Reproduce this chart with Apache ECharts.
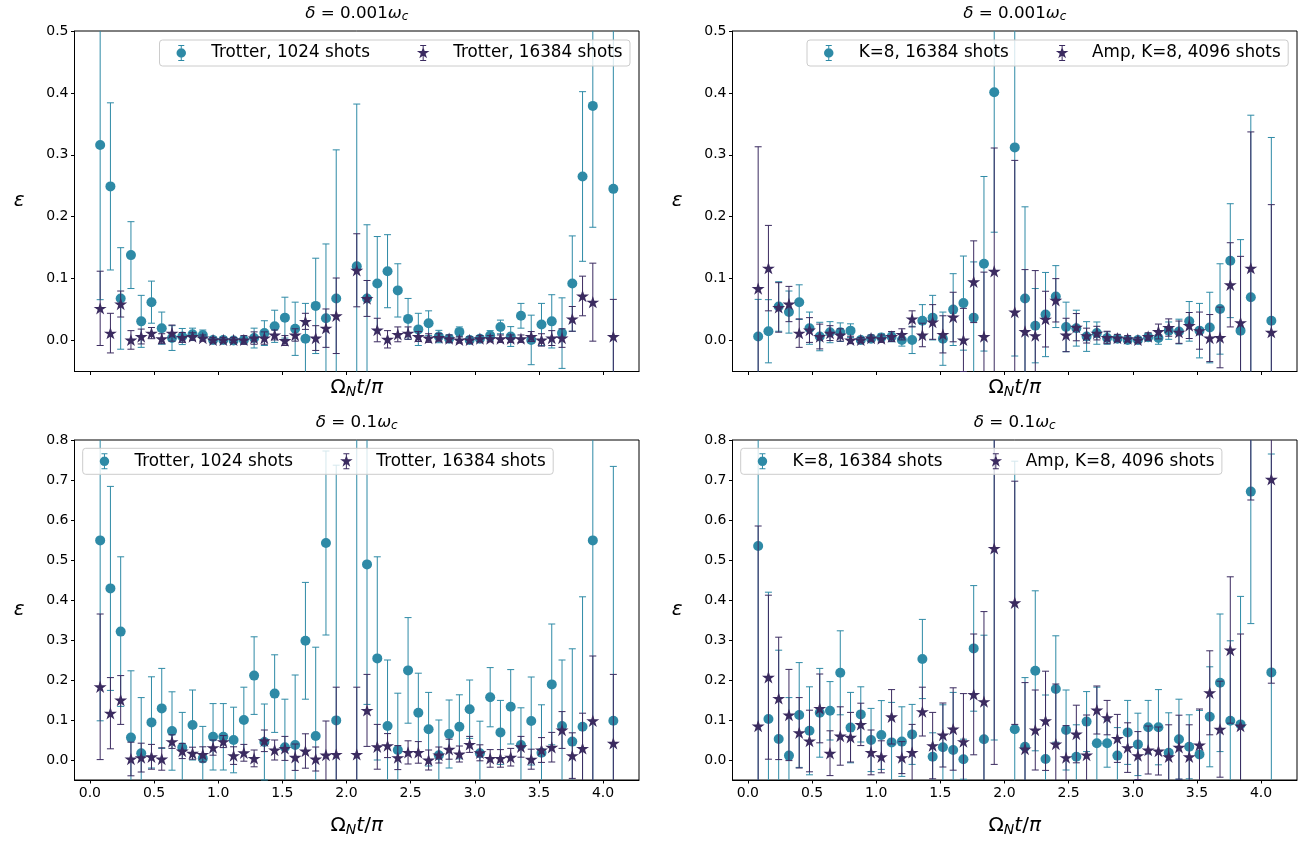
<!DOCTYPE html>
<html>
<head>
<meta charset="utf-8">
<script src="https://cdn.jsdelivr.net/npm/echarts@6/dist/echarts.min.js"></script>
<style>
  html, body { margin: 0; padding: 0; background: #fff; }
  #chart { width: 1316px; height: 845px; }
</style>
</head>
<body>
<div id="chart"></div>
<script>
// time points Omega_N t / pi (t = 2 and t = 4 are missing in the data)
const times = [0.08, 0.16, 0.24, 0.32, 0.40, 0.48, 0.56, 0.64, 0.72, 0.80, 0.88, 0.96,
  1.04, 1.12, 1.20, 1.28, 1.36, 1.44, 1.52, 1.60, 1.68, 1.76, 1.84, 1.92,
  2.08, 2.16, 2.24, 2.32, 2.40, 2.48, 2.56, 2.64, 2.72, 2.80, 2.88, 2.96,
  3.04, 3.12, 3.20, 3.28, 3.36, 3.44, 3.52, 3.60, 3.68, 3.76, 3.84, 3.92, 4.08];

// delta = 0.001 w_c, Trotter
const smallTrotter1024 = [0.316, 0.249, 0.068, 0.138, 0.031, 0.062, 0.020, 0.004, 0.0065, 0.010, 0.009, 0.001,
  0.001, 0.000, 0.001, 0.004, 0.012, 0.023, 0.037, 0.019, 0.003, 0.056, 0.036, 0.068,
  0.120, 0.068, 0.092, 0.112, 0.081, 0.035, 0.018, 0.028, 0.0065, 0.003, 0.014, 0.001,
  0.003, 0.008, 0.022, 0.0065, 0.040, 0.001, 0.026, 0.031, 0.012, 0.092, 0.265, 0.379, 0.245];
const smallTrotter1024Err = [0.25, 0.135, 0.082, 0.054, 0.042, 0.034, 0.026, 0.020, 0.013, 0.010, 0.008, 0.005,
  0.005, 0.004, 0.005, 0.016, 0.020, 0.026, 0.033, 0.043, 0.057, 0.077, 0.120, 0.240,
  0.262, 0.119, 0.076, 0.059, 0.043, 0.033, 0.026, 0.020, 0.010, 0.006, 0.008, 0.005,
  0.005, 0.008, 0.011, 0.016, 0.020, 0.040, 0.034, 0.043, 0.057, 0.077, 0.137, 0.196, 0.30];
const smallTrotter16384 = [0.052, 0.012, 0.059, 0.001, 0.0065, 0.012, 0.003, 0.012, 0.005, 0.0065, 0.004, 0.001,
  0.001, 0.001, 0.001, 0.004, 0.004, 0.009, 0.000, 0.009, 0.031, 0.004, 0.020, 0.040,
  0.1135, 0.068, 0.017, 0.002, 0.010, 0.012, 0.0065, 0.004, 0.005, 0.003, 0.001, 0.001,
  0.003, 0.003, 0.003, 0.003, 0.003, 0.0065, 0.001, 0.004, 0.004, 0.035, 0.072, 0.062, 0.0065];
const smallTrotter16384Err = [0.060, 0.032, 0.021, 0.015, 0.012, 0.009, 0.008, 0.013, 0.008, 0.006, 0.005, 0.004,
  0.004, 0.004, 0.007, 0.010, 0.010, 0.008, 0.008, 0.010, 0.013, 0.020, 0.031, 0.061,
  0.059, 0.029, 0.019, 0.014, 0.012, 0.010, 0.008, 0.007, 0.006, 0.006, 0.005, 0.005,
  0.005, 0.005, 0.006, 0.006, 0.006, 0.008, 0.010, 0.012, 0.015, 0.020, 0.032, 0.063, 0.060];

// delta = 0.001 w_c, K=8
const smallK8 = [0.0065, 0.015, 0.055, 0.046, 0.062, 0.020, 0.0065, 0.0135, 0.0135, 0.016, 0.001, 0.003,
  0.005, 0.006, 0.001, 0.001, 0.032, 0.037, 0.003, 0.050, 0.0605, 0.037, 0.124, 0.401,
  0.312, 0.068, 0.024, 0.042, 0.071, 0.022, 0.020, 0.0065, 0.012, 0.004, 0.003, 0.001,
  0.001, 0.0055, 0.004, 0.016, 0.0145, 0.031, 0.016, 0.021, 0.051, 0.129, 0.016, 0.070, 0.032];
const smallK8Err = [0.060, 0.051, 0.040, 0.034, 0.028, 0.026, 0.023, 0.017, 0.015, 0.011, 0.004, 0.005,
  0.006, 0.008, 0.010, 0.022, 0.026, 0.036, 0.043, 0.058, 0.076, 0.090, 0.141, 0.226,
  0.337, 0.148, 0.060, 0.068, 0.050, 0.040, 0.029, 0.024, 0.018, 0.010, 0.006, 0.005,
  0.004, 0.006, 0.010, 0.014, 0.020, 0.032, 0.044, 0.057, 0.073, 0.092, 0.147, 0.294, 0.296];
const smallAmpK8 = [0.084, 0.117, 0.0535, 0.059, 0.012, 0.017, 0.0065, 0.012, 0.009, 0.001, 0.001, 0.004,
  0.003, 0.0065, 0.010, 0.035, 0.009, 0.030, 0.010, 0.038, 0.001, 0.095, 0.0065, 0.112,
  0.046, 0.0146, 0.008, 0.0346, 0.065, 0.009, 0.0216, 0.008, 0.012, 0.005, 0.004, 0.003,
  0.001, 0.0065, 0.0146, 0.021, 0.0135, 0.0243, 0.016, 0.004, 0.005, 0.090, 0.029, 0.117, 0.0135];
const smallAmpK8Err = [0.229, 0.069, 0.040, 0.0285, 0.023, 0.020, 0.020, 0.012, 0.010, 0.006, 0.004, 0.005,
  0.006, 0.008, 0.009, 0.013, 0.019, 0.028, 0.030, 0.040, 0.051, 0.066, 0.104, 0.199,
  0.245, 0.100, 0.105, 0.045, 0.035, 0.027, 0.022, 0.012, 0.011, 0.010, 0.006, 0.005,
  0.004, 0.006, 0.012, 0.014, 0.018, 0.021, 0.030, 0.038, 0.049, 0.068, 0.107, 0.220, 0.206];

// delta = 0.1 w_c, Trotter
const bigTrotter1024 = [0.549, 0.429, 0.321, 0.056, 0.017, 0.094, 0.129, 0.0725, 0.031, 0.0875, 0.004, 0.058,
  0.058, 0.050, 0.100, 0.211, 0.045, 0.166, 0.032, 0.0375, 0.298, 0.060, 0.5425, 0.099,
  0.804, 0.489, 0.254, 0.085, 0.025, 0.224, 0.118, 0.077, 0.012, 0.065, 0.083, 0.127,
  0.017, 0.157, 0.069, 0.133, 0.0375, 0.0975, 0.018, 0.189, 0.085, 0.046, 0.083, 0.549, 0.098];
const bigTrotter1024Err = [0.451, 0.255, 0.187, 0.167, 0.139, 0.114, 0.100, 0.098, 0.088, 0.0875, 0.080, 0.083,
  0.083, 0.082, 0.082, 0.097, 0.095, 0.097, 0.120, 0.175, 0.146, 0.222, 0.230, 0.638,
  0.900, 0.350, 0.254, 0.165, 0.142, 0.132, 0.099, 0.092, 0.088, 0.085, 0.080, 0.073,
  0.080, 0.074, 0.080, 0.093, 0.093, 0.110, 0.120, 0.151, 0.165, 0.232, 0.325, 0.650, 0.636];
const bigTrotter16384 = [0.183, 0.117, 0.150, 0.0025, 0.006, 0.008, 0.0025, 0.046, 0.0225, 0.017, 0.014, 0.031,
  0.046, 0.011, 0.018, 0.004, 0.048, 0.025, 0.029, 0.007, 0.0225, 0.0025, 0.0125, 0.014,
  0.014, 0.124, 0.033, 0.036, 0.006, 0.019, 0.019, 0.000, 0.0125, 0.027, 0.015, 0.039,
  0.018, 0.004, 0.004, 0.007, 0.033, 0.002, 0.025, 0.032, 0.075, 0.011, 0.029, 0.098, 0.042];
const bigTrotter16384Err = [0.182, 0.089, 0.061, 0.042, 0.036, 0.031, 0.028, 0.017, 0.019, 0.015, 0.019, 0.019,
  0.015, 0.022, 0.021, 0.021, 0.027, 0.025, 0.030, 0.033, 0.043, 0.030, 0.085, 0.168,
  0.168, 0.090, 0.056, 0.030, 0.030, 0.029, 0.027, 0.025, 0.020, 0.025, 0.020, 0.020,
  0.020, 0.022, 0.022, 0.022, 0.026, 0.025, 0.031, 0.037, 0.046, 0.057, 0.088, 0.162, 0.172];

// delta = 0.1 w_c, K=8
const bigK8 = [0.535, 0.1025, 0.0525, 0.011, 0.1125, 0.073, 0.118, 0.123, 0.218, 0.081, 0.114, 0.050,
  0.0625, 0.044, 0.046, 0.064, 0.2525, 0.008, 0.032, 0.025, 0.002, 0.279, 0.052, 0.95,
  0.077, 0.033, 0.223, 0.0025, 0.1775, 0.075, 0.008, 0.096, 0.042, 0.042, 0.011, 0.069,
  0.039, 0.082, 0.082, 0.018, 0.052, 0.033, 0.014, 0.108, 0.193, 0.098, 0.089, 0.671, 0.219];
const bigK8Err = [0.600, 0.317, 0.222, 0.145, 0.131, 0.110, 0.111, 0.073, 0.105, 0.088, 0.069, 0.079,
  0.086, 0.100, 0.087, 0.075, 0.099, 0.060, 0.106, 0.144, 0.050, 0.157, 0.260, 0.900,
  0.670, 0.173, 0.200, 0.160, 0.133, 0.100, 0.080, 0.075, 0.140, 0.060, 0.070, 0.080,
  0.078, 0.067, 0.094, 0.100, 0.100, 0.080, 0.110, 0.125, 0.172, 0.200, 0.320, 0.330, 0.546];
const bigAmpK8 = [0.085, 0.207, 0.154, 0.1125, 0.068, 0.0475, 0.129, 0.017, 0.060, 0.057, 0.089, 0.019,
  0.008, 0.108, 0.006, 0.019, 0.121, 0.036, 0.0625, 0.0775, 0.046, 0.164, 0.146, 0.529,
  0.393, 0.0275, 0.075, 0.098, 0.040, 0.006, 0.065, 0.0125, 0.125, 0.106, 0.054, 0.031,
  0.011, 0.025, 0.0225, 0.008, 0.032, 0.008, 0.0375, 0.168, 0.077, 0.275, 0.085, 0.85, 0.702];
const bigAmpK8Err = [0.500, 0.205, 0.153, 0.114, 0.088, 0.077, 0.086, 0.056, 0.073, 0.062, 0.053, 0.056,
  0.040, 0.068, 0.040, 0.070, 0.061, 0.083, 0.080, 0.103, 0.120, 0.151, 0.225, 0.540,
  0.304, 0.166, 0.100, 0.124, 0.150, 0.080, 0.072, 0.100, 0.060, 0.043, 0.060, 0.062,
  0.060, 0.060, 0.060, 0.080, 0.080, 0.080, 0.090, 0.105, 0.120, 0.183, 0.230, 0.200, 0.510];

const xTicks = [0, 0.5, 1, 1.5, 2, 2.5, 3, 3.5, 4];
const yTicksSmall = [0, 0.1, 0.2, 0.3, 0.4, 0.5];
const yTicksBig = [0, 0.1, 0.2, 0.3, 0.4, 0.5, 0.6, 0.7, 0.8];

const FONT = 'DejaVu Sans';
const CIRCLE_COLOR = '#2e8aa6';
const STAR_COLOR = '#3b2b60';

// marker shapes (matplotlib-like '*' and errorbar legend glyphs)
function starPath(cx, cy, R) {
  const pts = [];
  for (let i = 0; i < 10; i++) {
    const a = (-90 + 36 * i) * Math.PI / 180;
    const r = i % 2 === 0 ? R : R * 0.382;
    pts.push((cx + r * Math.cos(a)).toFixed(3) + ',' + (cy + r * Math.sin(a)).toFixed(3));
  }
  return 'M' + pts.join('L') + 'Z';
}
const starSymbol = 'path://' + starPath(5, 5, 5);
const barGlyph = 'M6,0h1v16h-1zM3.5,0h6v1h-6zM3.5,15h6v1h-6z';
const circleIcon = 'path://' + barGlyph + 'M1.75,8a4.75,4.75 0 1,1 9.5,0a4.75,4.75 0 1,1 -9.5,0z';
const starIcon = 'path://' + barGlyph + starPath(6.5, 8, 6.6);

const grids = [
  { left: 74.5, top: 31, width: 564.5, height: 340.5 },
  { left: 732.5, top: 31, width: 564.5, height: 340.5 },
  { left: 74.5, top: 440, width: 564.5, height: 340 },
  { left: 732.5, top: 440, width: 564.5, height: 340 }
];

const panels = [
  { a: ['Trotter, 1024 shots', smallTrotter1024, smallTrotter1024Err],
    b: ['Trotter, 16384 shots', smallTrotter16384, smallTrotter16384Err],
    title: '0.001', legend: { left: 159.5, top: 40 } },
  { a: ['K=8, 16384 shots', smallK8, smallK8Err],
    b: ['Amp, K=8, 4096 shots', smallAmpK8, smallAmpK8Err],
    title: '0.001', legend: { left: 807, top: 40 } },
  { a: ['Trotter, 1024 shots', bigTrotter1024, bigTrotter1024Err],
    b: ['Trotter, 16384 shots', bigTrotter16384, bigTrotter16384Err],
    title: '0.1', legend: { left: 82.7, top: 448.3 } },
  { a: ['K=8, 16384 shots', bigK8, bigK8Err],
    b: ['Amp, K=8, 4096 shots', bigAmpK8, bigAmpK8Err],
    title: '0.1', legend: { left: 740.7, top: 448.3 } }
];

function errorBars(g, vals, errs, color, z) {
  return {
    type: 'custom', xAxisIndex: g, yAxisIndex: g, z: z, silent: true,
    data: times.map((t, i) => [t, vals[i] - errs[i], vals[i] + errs[i]]),
    encode: { x: 0, y: [1, 2] },
    renderItem: function (params, api) {
      const x = api.coord([api.value(0), 0])[0];
      const lo = api.coord([api.value(0), api.value(1)])[1];
      const hi = api.coord([api.value(0), api.value(2)])[1];
      const cs = params.coordSys;
      const top = cs.y, bot = cs.y + cs.height;
      const clamp = v => Math.max(top, Math.min(bot, v));
      const style = { stroke: color, lineWidth: 1 };
      const children = [{ type: 'line', shape: { x1: x, y1: clamp(hi), x2: x, y2: clamp(lo) }, style: style }];
      [hi, lo].forEach(y => {
        if (y >= top && y <= bot) {
          children.push({ type: 'line', shape: { x1: x - 3.5, y1: y, x2: x + 3.5, y2: y }, style: style });
        }
      });
      return { type: 'group', children: children };
    }
  };
}

function markers(g, name, vals, color, symbol, size, z) {
  return {
    type: 'scatter', name: name, xAxisIndex: g, yAxisIndex: g, z: z, silent: true, clip: true,
    data: times.map((t, i) => [t, vals[i]]),
    symbol: symbol, symbolSize: size, symbolKeepAspect: true,
    itemStyle: { color: color, opacity: 1 }
  };
}

const series = [];
panels.forEach((p, g) => {
  series.push(errorBars(g, p.a[1], p.a[2], CIRCLE_COLOR, 2));
  series.push(markers(g, p.a[0], p.a[1], CIRCLE_COLOR, 'circle', 10, 3));
  series.push(errorBars(g, p.b[1], p.b[2], STAR_COLOR, 4));
  series.push(markers(g, p.b[0], p.b[1], STAR_COLOR, starSymbol, 13, 5));
});

const mathRich = {
  it: { fontFamily: FONT, fontStyle: 'italic', fontSize: 16.7, color: '#000' },
  sub: { fontFamily: FONT, fontStyle: 'italic', fontSize: 12, color: '#000', padding: [7, 0, 0, 0] }
};
const labelRich = {
  rm: { fontFamily: FONT, fontSize: 20, color: '#000' },
  it: { fontFamily: FONT, fontStyle: 'italic', fontSize: 20, color: '#000' },
  sub: { fontFamily: FONT, fontStyle: 'italic', fontSize: 14, color: '#000', padding: [9, 0, 0, 0] }
};

const axisLineStyle = { show: true, onZero: false, lineStyle: { color: '#000', width: 1 } };

const chart = echarts.init(document.getElementById('chart'), null, { renderer: 'canvas' });
chart.setOption({
  animation: false,
  backgroundColor: '#fff',
  title: panels.map((p, g) => ({
    text: '{it|δ} = ' + p.title + '{it|ω}{sub|c}',
    left: grids[g].left + grids[g].width / 2,
    top: grids[g].top - 27,
    textAlign: 'center',
    padding: 0,
    textStyle: { fontFamily: FONT, fontSize: 16.7, fontWeight: 'normal', color: '#000', rich: mathRich }
  })),
  legend: panels.map((p, g) => ({
    left: p.legend.left, top: p.legend.top, orient: 'horizontal',
    itemGap: 47, itemWidth: 13, itemHeight: 16, symbolKeepAspect: true,
    padding: [4.5, 7.5, 4.5, 17],
    backgroundColor: 'rgba(255,255,255,0.8)', borderColor: '#cccccc', borderWidth: 1, borderRadius: 3,
    selectedMode: false, z: 10,
    textStyle: { fontFamily: FONT, fontSize: 16.8, color: '#000', padding: [0, 0, 0, 18.5] },
    data: [{ name: p.a[0], icon: circleIcon }, { name: p.b[0], icon: starIcon }]
  })),
  grid: grids.map(r => Object.assign({ show: true, borderColor: '#000', borderWidth: 1, backgroundColor: 'transparent', outerBoundsMode: 'none' }, r)),
  xAxis: grids.map((r, g) => ({
    type: 'value', gridIndex: g, min: -0.12, max: 4.28,
    name: '{rm|Ω}{sub|N}{it|t}{rm|/}{it|π}', nameLocation: 'middle', nameGap: g < 2 ? 5 : 34,
    nameTextStyle: { rich: labelRich },
    axisLine: axisLineStyle,
    axisTick: { show: true, length: 3.5, lineStyle: { color: '#000' }, customValues: xTicks },
    axisLabel: { show: g >= 2, customValues: xTicks, formatter: v => v.toFixed(1), fontFamily: FONT, fontSize: 14, color: '#000', margin: 6 },
    splitLine: { show: false }
  })),
  yAxis: grids.map((r, g) => {
    const ticks = g < 2 ? yTicksSmall : yTicksBig;
    return {
      type: 'value', gridIndex: g, min: -0.05, max: g < 2 ? 0.5 : 0.8,
      name: '{it|ε}', nameLocation: 'middle', nameRotate: 0, nameGap: 50,
      nameTextStyle: { rich: labelRich },
      axisLine: axisLineStyle,
      axisTick: { show: true, length: 3.5, lineStyle: { color: '#000' }, customValues: ticks },
      axisLabel: { customValues: ticks, formatter: v => v.toFixed(1), fontFamily: FONT, fontSize: 14, color: '#000', margin: 6 },
      splitLine: { show: false }
    };
  }),
  series: series
});
</script>
</body>
</html>
